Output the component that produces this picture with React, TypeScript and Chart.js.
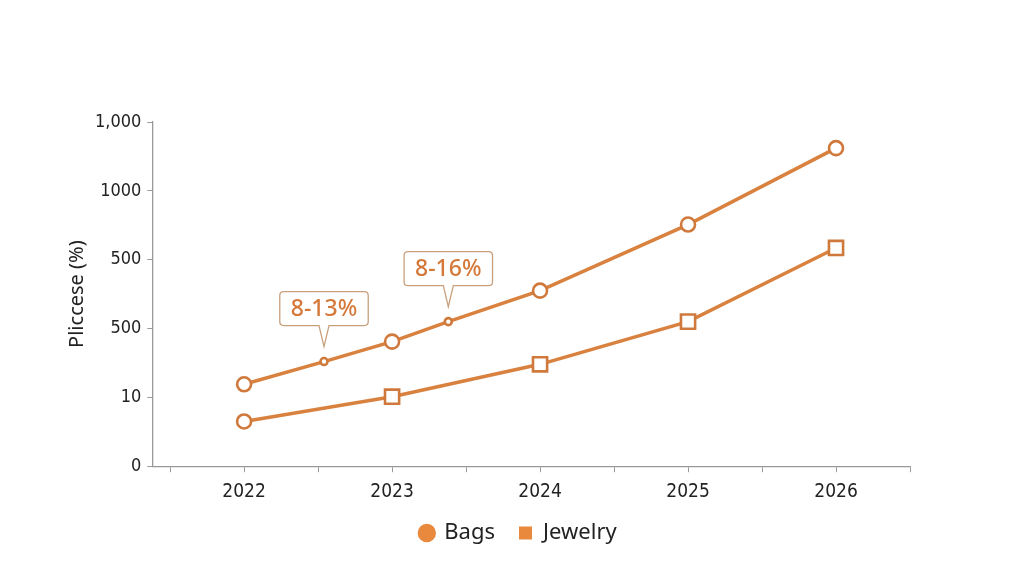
import React, { useEffect, useRef } from "react";
import { Chart, registerables } from "chart.js";
Chart.register(...registerables);

const bagsYears = [2022, 2022.54, 2023, 2023.38, 2024, 2025, 2026];
const bagsValues = [1.19, 1.52, 1.81, 2.1, 2.55, 3.51, 4.62];
const bagsRadius = [7, 3.5, 7, 3.5, 7, 7, 7];
const jewelryYears = [2022, 2023, 2024, 2025, 2026];
const jewelryValues = [0.65, 1.01, 1.48, 2.1, 3.17];
const jewelryStyles = ["circle", "rect", "rect", "rect", "rect"];
const jewelryRadius = [7, 10, 10, 10, 10];
const yTickLabels = ["0", "10", "500", "500", "1000", "1,000"];
const callouts = [
  { index: 1, text: "8-13%" },
  { index: 3, text: "8-16%" },
];

const ORANGE = "#d9813f";
const TICK_FONT = "'DejaVu Sans Condensed', 'Liberation Sans'";

const calloutPlugin = {
  id: "callouts",
  afterLayout(chart: any) {
    if (chart.legend) {
      chart.legend.left += 31;
      chart.legend.right += 31;
      chart.legend.top -= 13;
      chart.legend.bottom -= 13;
    }
  },
  afterDatasetsDraw(chart: any) {
    const ctx = chart.ctx;
    const meta = chart.getDatasetMeta(0);
    ctx.save();
    ctx.font = "500 23px 'Noto Sans'";
    callouts.forEach((c) => {
      const pt = meta.data[c.index];
      const px = pt.x;
      const py = pt.y;
      const w = ctx.measureText(c.text).width + 22;
      const h = 34;
      const bottom = py - 36;
      const top = bottom - h;
      const left = px - w / 2;
      const r = 4;
      ctx.beginPath();
      ctx.moveTo(left + r, top);
      ctx.lineTo(left + w - r, top);
      ctx.quadraticCurveTo(left + w, top, left + w, top + r);
      ctx.lineTo(left + w, bottom - r);
      ctx.quadraticCurveTo(left + w, bottom, left + w - r, bottom);
      ctx.lineTo(px + 5, bottom);
      ctx.lineTo(px, py - 15);
      ctx.lineTo(px - 5, bottom);
      ctx.lineTo(left + r, bottom);
      ctx.quadraticCurveTo(left, bottom, left, bottom - r);
      ctx.lineTo(left, top + r);
      ctx.quadraticCurveTo(left, top, left + r, top);
      ctx.closePath();
      ctx.fillStyle = "#ffffff";
      ctx.fill();
      ctx.strokeStyle = "#c9a07c";
      ctx.lineWidth = 1.3;
      ctx.stroke();
      ctx.fillStyle = "#d5793a";
      ctx.textAlign = "center";
      ctx.textBaseline = "middle";
      ctx.fillText(c.text, px, top + h / 2 + 1);
    });
    ctx.restore();
  },
};

export default function App() {
  const ref = useRef<HTMLCanvasElement>(null);
  useEffect(() => {
    if (!ref.current) return;
    const chart = new Chart(ref.current, {
      type: "line",
      data: {
        datasets: [
          {
            label: "Bags",
            data: bagsYears.map((x, i) => ({ x, y: bagsValues[i] })),
            borderColor: ORANGE,
            backgroundColor: "#ffffff",
            borderWidth: 3.5,
            pointRadius: bagsRadius,
            pointBorderWidth: 2.6,
            pointBorderColor: "#cf7a3c",
            pointBackgroundColor: "#ffffff",
            pointStyle: "circle",
          },
          {
            label: "Jewelry",
            data: jewelryYears.map((x, i) => ({ x, y: jewelryValues[i] })),
            borderColor: ORANGE,
            backgroundColor: "#ffffff",
            borderWidth: 3.5,
            pointRadius: jewelryRadius,
            pointBorderWidth: 2.6,
            pointBorderColor: "#cf7a3c",
            pointBackgroundColor: "#ffffff",
            pointStyle: jewelryStyles as any,
          },
        ],
      },
      options: {
        animation: false,
        responsive: false,
        layout: { padding: { top: 114, right: 106, bottom: 1, left: 57 } },
        plugins: {
          tooltip: { enabled: false },
          legend: {
            position: "bottom",
            labels: {
              usePointStyle: true,
              font: { family: "'Noto Sans'", size: 22 },
              color: "#222",
              padding: 24,
              boxWidth: 13,
              boxHeight: 13,
              generateLabels: () => [
                { text: "Bags", fillStyle: "#e8893e", strokeStyle: "#e8893e", lineWidth: 0, pointStyle: "circle", datasetIndex: 0, fontColor: "#222" } as any,
                { text: "Jewelry", fillStyle: "#e8893e", strokeStyle: "#e8893e", lineWidth: 0, pointStyle: "rect", datasetIndex: 1, fontColor: "#222" } as any,
              ],
            },
          },
        },
        scales: {
          x: {
            type: "linear",
            min: 2021.38,
            max: 2026.5,
            grid: { display: true, drawOnChartArea: false, drawTicks: true, tickLength: 6, color: "#999" },
            border: { color: "#999", width: 1.3 },
            afterBuildTicks: (axis: any) => {
              const t = [];
              for (let v = 2021.5; v <= 2026.5001; v += 0.5) t.push({ value: v });
              axis.ticks = t;
            },
            ticks: {
              autoSkip: false,
              maxRotation: 0,
              color: "#222",
              padding: 8,
              font: { family: TICK_FONT, size: 19 },
              callback: (v: any) => (Number.isInteger(v) && v >= 2022 ? String(v) : ""),
            },
          },
          y: {
            min: 0,
            max: 5,
            grid: { display: true, drawOnChartArea: false, tickLength: 5, color: "#999" },
            border: { color: "#999", width: 1.3 },
            ticks: {
              stepSize: 1,
              color: "#222",
              padding: 6,
              font: { family: TICK_FONT, size: 18 },
              callback: (v: any) => yTickLabels[v] ?? "",
            },
            title: {
              display: true,
              text: "Pliccese (%)",
              color: "#222",
              padding: { top: 0, bottom: 0 },
              font: { family: "'Noto Sans'", size: 20 },
            },
          },
        },
      },
      plugins: [calloutPlugin],
    });
    return () => chart.destroy();
  }, []);
  return <canvas ref={ref} width={1008} height={560} style={{ display: "block" }} />;
}
